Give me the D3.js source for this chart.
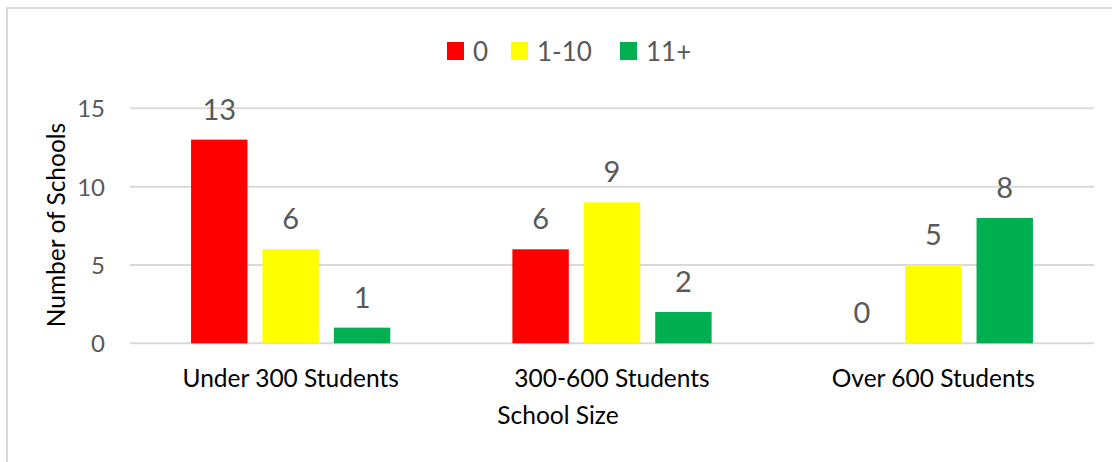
<!DOCTYPE html>
<html>
<head>
<meta charset="utf-8">
<script src="https://cdn.jsdelivr.net/npm/d3@7"></script>
<style>
  html, body { margin: 0; padding: 0; background: #fff; }
  svg { display: block; font-family: Lato, "Open Sans", sans-serif; }
</style>
</head>
<body>
<svg id="chart" width="1112" height="462"></svg>
<script>
// School size groups and number of schools in each band
const categories = ["Under 300 Students", "300-600 Students", "Over 600 Students"];
const seriesNames = ["0", "1-10", "11+"];
const seriesColors = ["#ff0000", "#ffff00", "#00b050"];
const values0 = [13, 6, 0];
const values1to10 = [6, 9, 5];
const values11plus = [1, 2, 8];
const yTicks = [0, 5, 10, 15];

const seriesValues = [values0, values1to10, values11plus];
const rows = categories.map((c, i) => ({
  category: c,
  bars: seriesNames.map((s, j) => ({ series: s, value: seriesValues[j][i], color: seriesColors[j] }))
}));

const svg = d3.select("#chart");

// outer frame (left and top edges)
svg.append("path")
  .attr("d", "M7,462 V8 H1112")
  .attr("fill", "none")
  .attr("stroke", "#d9d9d9")
  .attr("stroke-width", 2);

const plot = { left: 130, right: 1094, top: 108.3, bottom: 343.3 };

const x0 = d3.scaleBand()
  .domain(categories)
  .range([plot.left, plot.right])
  .paddingInner(0.38)
  .paddingOuter(0.19);

const x1 = d3.scaleBand()
  .domain(seriesNames)
  .range([0, x0.bandwidth()])
  .paddingInner(0.21)
  .paddingOuter(0);

const y = d3.scaleLinear().domain([0, 15]).range([plot.bottom, plot.top]);

// gridlines
svg.append("g")
  .selectAll("line")
  .data(yTicks)
  .join("line")
  .attr("x1", plot.left)
  .attr("x2", plot.right)
  .attr("y1", d => y(d))
  .attr("y2", d => y(d))
  .attr("stroke", "#d9d9d9")
  .attr("stroke-width", 2);

// y axis tick labels
const yAxis = d3.axisLeft(y).tickValues(yTicks).tickSize(0).tickPadding(0);
const gy = svg.append("g").attr("transform", `translate(${plot.left - 25},0)`).call(yAxis);
gy.select(".domain").remove();
gy.selectAll("text")
  .attr("font-family", "Lato, sans-serif")
  .attr("font-size", 24)
  .attr("fill", "#595959")
  .attr("dy", "0.36em");

// bars
const groups = svg.append("g")
  .selectAll("g")
  .data(rows)
  .join("g")
  .attr("transform", d => `translate(${x0(d.category)},0)`);

groups.selectAll("rect")
  .data(d => d.bars)
  .join("rect")
  .attr("x", d => x1(d.series))
  .attr("width", x1.bandwidth())
  .attr("y", d => y(d.value))
  .attr("height", d => y(0) - y(d.value))
  .attr("fill", d => d.color);

// value labels
groups.selectAll("text")
  .data(d => d.bars)
  .join("text")
  .attr("x", d => x1(d.series) + x1.bandwidth() / 2)
  .attr("y", d => y(d.value) - 20)
  .attr("text-anchor", "middle")
  .attr("font-size", 29)
  .attr("fill", "#595959")
  .text(d => d.value);

// x axis category labels
const xAxis = d3.axisBottom(x0).tickSize(0).tickPadding(0);
const gx = svg.append("g").attr("transform", `translate(0,387)`).call(xAxis);
gx.select(".domain").remove();
gx.selectAll("text")
  .attr("font-family", "Lato, sans-serif")
  .attr("font-size", 24.5)
  .attr("fill", "#000")
  .attr("dy", 0);

// axis titles
svg.append("text")
  .attr("x", 558)
  .attr("y", 424)
  .attr("text-anchor", "middle")
  .attr("font-size", 24.5)
  .attr("fill", "#000")
  .text("School Size");

svg.append("text")
  .attr("transform", "translate(65,225) rotate(-90)")
  .attr("text-anchor", "middle")
  .attr("font-size", 24.5)
  .attr("fill", "#000")
  .text("Number of Schools");

// legend
const legendItems = [
  { name: seriesNames[0], color: seriesColors[0], x: 447 },
  { name: seriesNames[1], color: seriesColors[1], x: 511 },
  { name: seriesNames[2], color: seriesColors[2], x: 620 }
];
const legend = svg.append("g")
  .selectAll("g")
  .data(legendItems)
  .join("g")
  .attr("transform", d => `translate(${d.x},42)`);
legend.append("rect")
  .attr("width", 17)
  .attr("height", 18)
  .attr("fill", d => d.color);
legend.append("text")
  .attr("x", 26)
  .attr("y", 18.5)
  .attr("font-size", 26)
  .attr("fill", "#595959")
  .text(d => d.name);
</script>
</body>
</html>
